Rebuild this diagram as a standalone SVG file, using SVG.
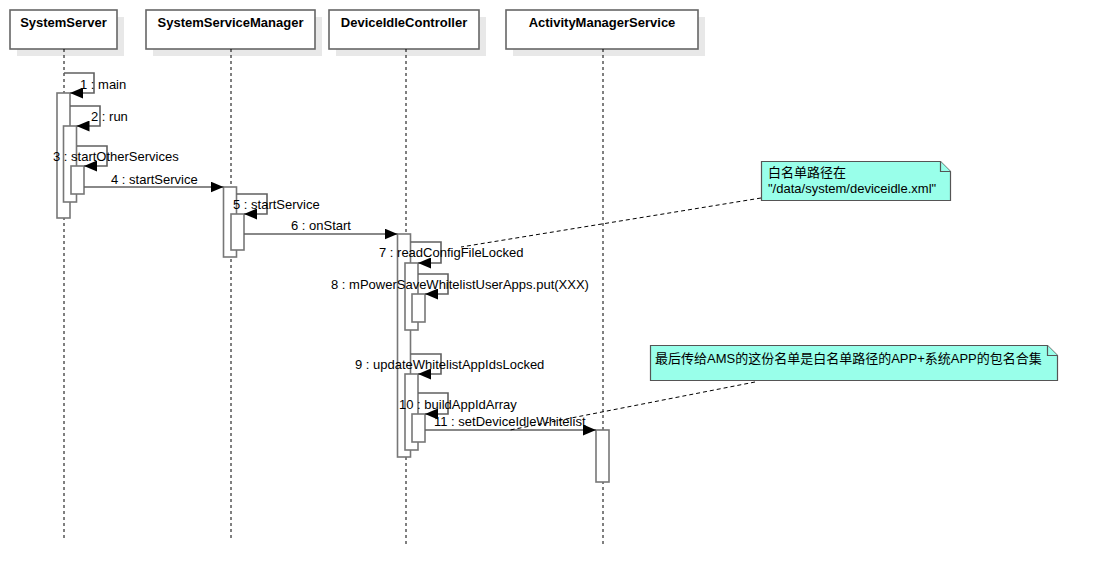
<svg xmlns="http://www.w3.org/2000/svg" width="1099" height="586" viewBox="0 0 1099 586">
<style>
.shadow{fill:#e8e8e8;stroke:none}
.head{fill:#fff;stroke:#666;stroke-width:1.6}
.htxt{font-family:"Liberation Sans",Arial,sans-serif;font-size:13px;font-weight:bold;fill:#000;text-anchor:middle}
.life{stroke:#000;stroke-width:1;stroke-dasharray:3,3;fill:none}
.act{fill:#fff;stroke:#777;stroke-width:1.6}
.msg{fill:none;stroke:#606060;stroke-width:1.6}
.lbl{font-family:"Liberation Sans",Arial,sans-serif;font-size:13px;fill:#000}
.note{fill:#99ffea;stroke:#555;stroke-width:1.2}
.ntxt{font-family:"Liberation Sans","Noto Sans CJK SC",sans-serif;font-size:13px;fill:#000}
.nlink{fill:none;stroke:#000;stroke-width:1;stroke-dasharray:4,3}
</style>
<defs>
<marker id="arr" markerWidth="13" markerHeight="11" refX="13" refY="5.5" orient="auto" markerUnits="userSpaceOnUse">
<path d="M0,0 L13,5.5 L0,11 z" fill="#000"/>
</marker>
</defs>
<rect width="1099" height="586" fill="#fff"/>

<g id="SystemServer">
<rect class="shadow" x="17" y="17" width="107" height="39"/>
<rect class="head" x="10" y="10" width="107" height="39"/>
<text class="htxt" x="63.5" y="27">SystemServer</text>
<line class="life" x1="64" y1="49" x2="64" y2="538"/>
</g>
<g id="SystemServiceManager">
<rect class="shadow" x="153" y="17" width="169" height="39"/>
<rect class="head" x="146" y="10" width="169" height="39"/>
<text class="htxt" x="230.5" y="27">SystemServiceManager</text>
<line class="life" x1="231" y1="49" x2="231" y2="538"/>
</g>
<g id="DeviceIdleController">
<rect class="shadow" x="336" y="17" width="150" height="39"/>
<rect class="head" x="329" y="10" width="150" height="39"/>
<text class="htxt" x="404" y="27">DeviceIdleController</text>
<line class="life" x1="406" y1="49" x2="406" y2="545"/>
</g>
<g id="ActivityManagerService">
<rect class="shadow" x="513" y="17" width="192" height="39"/>
<rect class="head" x="506" y="10" width="192" height="39"/>
<text class="htxt" x="602" y="27">ActivityManagerService</text>
<line class="life" x1="603" y1="49" x2="603" y2="545"/>
</g>

<g id="activations">
<rect class="act" x="57" y="93" width="13" height="125"/>
<rect class="act" x="63.5" y="126" width="13" height="76"/>
<rect class="act" x="71" y="166" width="13" height="28"/>
<rect class="act" x="223.5" y="187" width="13" height="70"/>
<rect class="act" x="231" y="214" width="13" height="36"/>
<rect class="act" x="397.5" y="234" width="13" height="223"/>
<rect class="act" x="405" y="263" width="13" height="67"/>
<rect class="act" x="412" y="294" width="13" height="28"/>
<rect class="act" x="405" y="374" width="13" height="76"/>
<rect class="act" x="412" y="414" width="13" height="28"/>
<rect class="act" x="596" y="430" width="13" height="52"/>
</g>

<g id="connectors">
<path class="msg" d="M64,73 H94 V93 H70" marker-end="url(#arr)"/>
<path class="msg" d="M70,106 H100 V126 H76.5" marker-end="url(#arr)"/>
<path class="msg" d="M77,146 H107 V166 H84" marker-end="url(#arr)"/>
<path class="msg" d="M84,187 H223.5" marker-end="url(#arr)"/>
<path class="msg" d="M236.5,194 H267 V214 H244" marker-end="url(#arr)"/>
<path class="msg" d="M244,234 H397.5" marker-end="url(#arr)"/>
<path class="msg" d="M410.5,242 H441 V263 H418" marker-end="url(#arr)"/>
<path class="msg" d="M418,274 H448 V294 H425" marker-end="url(#arr)"/>
<path class="msg" d="M410.5,354 H441 V374 H418" marker-end="url(#arr)"/>
<path class="msg" d="M418,393 H448 V414 H425" marker-end="url(#arr)"/>
<path class="msg" d="M425,430 H596" marker-end="url(#arr)"/>
<path class="nlink" d="M761,198 L461,247"/>
<path class="nlink" d="M755,382 L510,430"/>
</g>

<g id="labels">
<text class="lbl" x="80" y="89">1 : main</text>
<text class="lbl" x="91" y="121">2 : run</text>
<text class="lbl" x="53" y="161">3 : startOtherServices</text>
<text class="lbl" x="111" y="184">4 : startService</text>
<text class="lbl" x="233" y="209">5 : startService</text>
<text class="lbl" x="291" y="230">6 : onStart</text>
<text class="lbl" x="379" y="257">7 : readConfigFileLocked</text>
<text class="lbl" x="331" y="289">8 : mPowerSaveWhitelistUserApps.put(XXX)</text>
<text class="lbl" x="355" y="369">9 : updateWhitelistAppIdsLocked</text>
<text class="lbl" x="399" y="409">10 : buildAppIdArray</text>
<text class="lbl" x="434" y="426">11 : setDeviceIdleWhitelist</text>
</g>

<g id="note1">
<path class="note" d="M761.5,161.5 H940.5 L950.5,171.5 V200.5 H761.5 Z"/>
<path class="note" d="M940.5,161.5 V171.5 H950.5" fill="none"/>
<text class="ntxt" x="768" y="177">白名单路径在</text>
<text class="ntxt" x="768" y="193">"/data/system/deviceidle.xml"</text>
</g>
<g id="note2">
<path class="note" d="M650.5,345.5 H1047.5 L1057.5,355.5 V380.5 H650.5 Z"/>
<path class="note" d="M1047.5,345.5 V355.5 H1057.5" fill="none"/>
<text class="ntxt" x="655" y="363">最后传给AMS的这份名单是白名单路径的APP+系统APP的包名合集</text>
</g>
</svg>
